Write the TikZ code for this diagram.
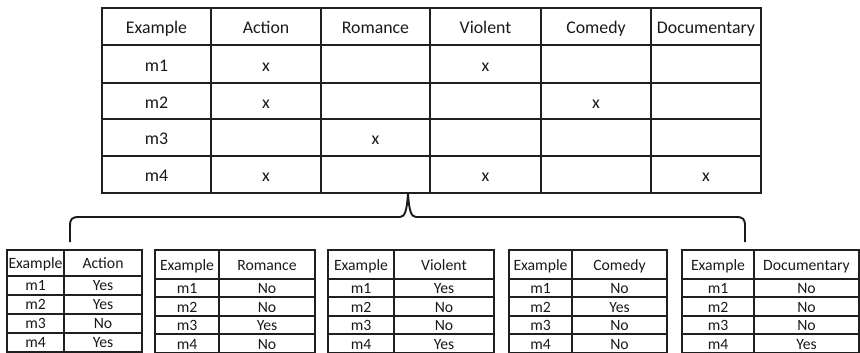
\documentclass[tikz,border=0pt]{standalone}
\usepackage{fontspec}
\setmainfont{Carlito}
\begin{document}
\begin{tikzpicture}[x={(1pt,0pt)},y={(0pt,-1pt)},
  bigline/.style={line width=1.8pt,draw=black!88},
  smline/.style={line width=1.5pt,draw=black!88},
  bracel/.style={line width=1.9pt,draw=black!90},
  big/.style={anchor=base,inner sep=0pt,font=\fontsize{17.8}{20}\selectfont,text=black!90},
  sm/.style={anchor=base,inner sep=0pt,font=\fontsize{15.7}{18}\selectfont,text=black!90}]
\useasboundingbox (0,0) rectangle (860,353);
% ---------- main table ----------
\draw[bigline] (102,8) rectangle (761,193);
\foreach \x in {211,321,430,541,651} \draw[bigline] (\x,8) -- (\x,193);
\foreach \y in {45,83,119,156} \draw[bigline] (102,\y) -- (761,\y);
\node[big] (h0) at (156.5,33.5) {Example};
\node[big] (h1) at (266,33.5) {Action};
\node[big] (h2) at (375.5,33.5) {Romance};
\node[big] (h3) at (485.5,33.5) {Violent};
\node[big] (h4) at (596,33.5) {Comedy};
\node[big] (h5) at (706,33.5) {Documentary};
\node[big] (r1) at (156.5,71) {m1};
\node[big] (r2) at (156.5,108) {m2};
\node[big] (r3) at (156.5,144.5) {m3};
\node[big] (r4) at (156.5,181.5) {m4};
\node[big] (x11) at (266,71) {x};
\node[big] (x13) at (485.5,71) {x};
\node[big] (x21) at (266,108) {x};
\node[big] (x24) at (596,108) {x};
\node[big] (x32) at (375.5,144.5) {x};
\node[big] (x41) at (266,181.5) {x};
\node[big] (x43) at (485.5,181.5) {x};
\node[big] (x45) at (706,181.5) {x};
% ---------- brace ----------
\coordinate (tip) at (408,193);
\coordinate (bl) at (70,242);
\coordinate (br) at (745,242);
\draw[bracel] (bl) -- (70,226) .. controls (70,219) and (72,217) .. (79,217) -- (400,217)
  .. controls (405,217) and (407,210) .. (tip)
  .. controls (409,210) and (411,217) .. (416,217) -- (736,217)
  .. controls (743,217) and (745,219) .. (745,226) -- (br);
% ---------- small table 1 ----------
\draw[smline] (7,250) rectangle (142,352);
\draw[smline] (64,250) -- (64,352);
\foreach \y in {276,295,314,333} \draw[smline] (7,\y) -- (142,\y);
\node[sm] (a0) at (35.5,268.5) {Example};
\node[sm] (a1) at (103,268.5) {Action};
\foreach \i/\v/\b in {1/Yes/290.5,2/Yes/309.5,3/No/328.5,4/Yes/347.5} {
  \node[sm] (am\i) at (35.5,\b) {m\i};
  \node[sm] (av\i) at (103,\b) {\v};
}
% ---------- small table 2 ----------
\draw[smline] (155,250) rectangle (315,353);
\draw[smline] (219,250) -- (219,353);
\foreach \y in {279,297,316,334} \draw[smline] (155,\y) -- (315,\y);
\node[sm] (b0) at (187,270) {Example};
\node[sm] (b1) at (267,270) {Romance};
\foreach \i/\v/\b in {1/No/293.5,2/No/312,3/Yes/330.5,4/No/349} {
  \node[sm] (bm\i) at (187,\b) {m\i};
  \node[sm] (bv\i) at (267,\b) {\v};
}
% ---------- small table 3 ----------
\draw[smline] (328,250) rectangle (494,353);
\draw[smline] (394,250) -- (394,353);
\foreach \y in {279,297,316,334} \draw[smline] (328,\y) -- (494,\y);
\node[sm] (c0) at (361,270) {Example};
\node[sm] (c1) at (444,270) {Violent};
\foreach \i/\v/\b in {1/Yes/293.5,2/No/312,3/No/330.5,4/Yes/349} {
  \node[sm] (cm\i) at (361,\b) {m\i};
  \node[sm] (cv\i) at (444,\b) {\v};
}
% ---------- small table 4 ----------
\draw[smline] (509,250) rectangle (667,353);
\draw[smline] (572,250) -- (572,353);
\foreach \y in {279,297,316,334} \draw[smline] (509,\y) -- (667,\y);
\node[sm] (d0) at (540.5,270) {Example};
\node[sm] (d1) at (619.5,270) {Comedy};
\foreach \i/\v/\b in {1/No/293.5,2/Yes/312,3/No/330.5,4/No/349} {
  \node[sm] (dm\i) at (540.5,\b) {m\i};
  \node[sm] (dv\i) at (619.5,\b) {\v};
}
% ---------- small table 5 ----------
\draw[smline] (682,250) rectangle (859,353);
\draw[smline] (754,250) -- (754,353);
\foreach \y in {279,297,316,334} \draw[smline] (682,\y) -- (859,\y);
\node[sm] (e0) at (718,270) {Example};
\node[sm] (e1) at (806.5,270) {Documentary};
\foreach \i/\v/\b in {1/No/293.5,2/No/312,3/No/330.5,4/Yes/349} {
  \node[sm] (em\i) at (718,\b) {m\i};
  \node[sm] (ev\i) at (806.5,\b) {\v};
}
\end{tikzpicture}
\end{document}
